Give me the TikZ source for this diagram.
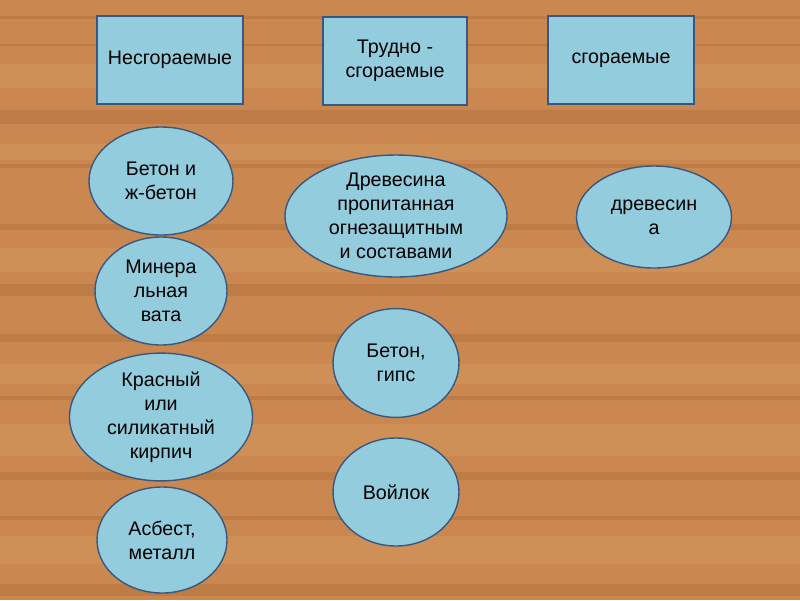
\documentclass[tikz,border=0pt]{standalone}
\usepackage{fontspec}
\setmainfont{Liberation Sans}
\usepackage{xcolor}
\usetikzlibrary{positioning,shapes.geometric}
\definecolor{wood}{RGB}{202,136,80}
\definecolor{wooddark}{RGB}{160,96,48}
\definecolor{woodlight}{RGB}{218,160,104}
\definecolor{cellfill}{RGB}{147,205,221}
\definecolor{cellline}{RGB}{56,88,130}

\begin{document}
\begin{tikzpicture}[
		kind/.style={draw=cellline,fill=cellfill,line width=1pt,minimum width=3.65cm,minimum height=2.2cm,align=center,font=\fontsize{14}{17}\selectfont},
		item/.style={ellipse,draw=cellline,fill=cellfill,line width=1pt,inner sep=0pt,align=center,font=\fontsize{14}{17}\selectfont}]
		% wooden background
		\fill[wood] (0,0) rectangle (20,-15);
		\foreach \y/\h in {0.4/0.08,1.1/0.06,2.75/0.35,4.1/0.1,5.6/0.15,7.1/0.3,8.35/0.2,9.9/0.1,11.8/0.2,12.9/0.1,14.6/0.3}
			\fill[wooddark,opacity=0.3] (0,-\y) rectangle (20,-\y-\h);
		\foreach \y/\h in {1.6/0.6,3.6/0.4,6.2/0.6,9.1/0.5,10.6/0.8,13.4/0.7}
			\fill[woodlight,opacity=0.35] (0,-\y) rectangle (20,-\y-\h);
		\useasboundingbox (0,0) rectangle (20,-15);
		
		% categories
		\node[kind] (nonfl) at (4.25,-1.5) {Несгораемые};
		\node[kind,minimum width=3.6cm] (hardfl) at (9.875,-1.525) {Трудно -\\сгораемые};
		\node[kind] (fl) at (15.525,-1.5) {сгораемые};
		
		% materials
		\node[item,minimum width=3.6cm,minimum height=2.7cm] (concrete) at (4.025,-4.525) {Бетон и\\ж-бетон};
		\node[item,minimum width=3.3cm,minimum height=2.7cm] (wool) at (4.025,-7.275) {Минера\\льная\\вата};
		\node[item,minimum width=4.575cm,minimum height=2.7cm] (brick) at (4.025,-10.425) {Красный\\или\\силикатный\\кирпич};
		\node[item,minimum width=3.25cm,minimum height=2.65cm] (asbest) at (4.05,-13.5) {Асбест,\\металл};
		\node[item,minimum width=5.55cm,minimum height=3.05cm] (treated) at (9.9,-5.4) {Древесина\\пропитанная\\огнезащитным\\и составами};
		\node[item,minimum width=3.15cm,minimum height=2.72cm] (gypsum) at (9.9,-9.075) {Бетон,\\гипс};
		\node[item,minimum width=3.15cm,minimum height=2.7cm] (felt) at (9.9,-12.3) {Войлок};
		\node[item,minimum width=3.875cm,minimum height=2.55cm] (timber) at (16.35,-5.425) {древесин\\а};
	\end{tikzpicture}
\end{document}
